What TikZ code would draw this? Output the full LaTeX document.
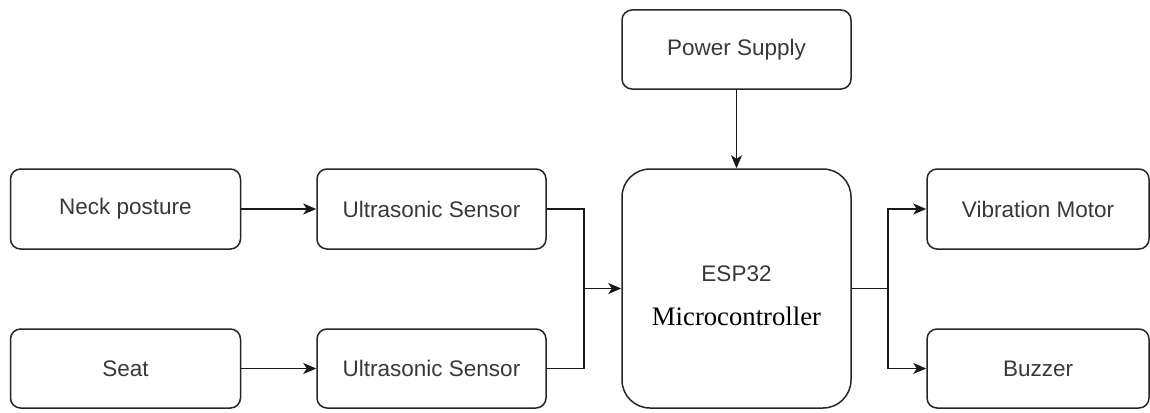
\documentclass[tikz,border=0pt]{standalone}
\usepackage{fontspec}
\setmainfont{Liberation Serif}
\setsansfont{Liberation Sans}
\usetikzlibrary{arrows.meta}
\begin{document}
\begin{tikzpicture}[x=1pt,y=-1pt,
  box/.style={draw=black!85, line width=1.5pt, rounded corners=10pt,
    minimum width=229pt, minimum height=80pt, inner sep=0pt,
    font=\sffamily\fontsize{22.5}{26}\selectfont, text=black!78},
  line/.style={draw=black!90, line width=1.5pt},
  conn/.style={line, -{Stealth[length=13pt,width=11pt,inset=3.5pt]}}]
\useasboundingbox (0,0) rectangle (1150,412);

\node[box, minimum height=79pt] (ps) at (736.5,49.5) {Power Supply};
\node[box, minimum height=239pt, rounded corners=28pt] (esp) at (736.5,288.5) {};
\node[font=\sffamily\fontsize{22.5}{26}\selectfont, text=black!78, inner sep=0pt] (esplbl) at (736.5,274) {ESP32};
\node[font=\fontsize{26.7}{30}\selectfont, text=black, inner sep=0pt] (mclbl) at (736.5,316) {Microcontroller};

\node[box, minimum width=230pt] (neck) at (125.5,209) {Neck posture};
\node[box] (us1) at (431.5,209) {Ultrasonic Sensor};
\node[box, minimum width=230pt, minimum height=79pt] (seat) at (125.5,368.5) {Seat};
\node[box, minimum height=79pt] (us2) at (431.5,368.5) {Ultrasonic Sensor};
\node[box, minimum width=222pt] (vib) at (1038,209) {Vibration Motor};
\node[box, minimum width=222pt, minimum height=79pt] (buzz) at (1038,368.5) {Buzzer};

\coordinate (jin) at (584,288.5);
\coordinate (jout) at (888,288.5);

\draw[conn] (ps) -- (esp);
\draw[conn] (neck) -- (us1);
\draw[conn] (seat) -- (us2);
\draw[line] (us1.east) -| (jin);
\draw[line] (us2.east) -| (jin);
\draw[conn] (jin) -- (esp.west);
\draw[line] (esp.east) -- (jout);
\draw[conn] (jout) |- (vib.west);
\draw[conn] (jout) |- (buzz.west);
\end{tikzpicture}
\end{document}
